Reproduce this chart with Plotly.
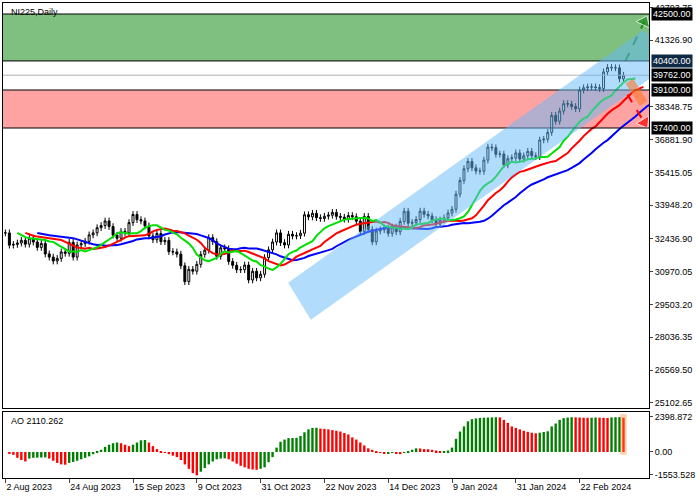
import plotly.graph_objects as go
import pandas as pd
import numpy as np

closes = [32707,32159,32192,32254,32377,32204,32473,32300,32059,32238,31766,31626,31450,31565,31856,31796,
32287,31624,32169,32227,32333,32619,32710,32939,33036,33241,32991,32606,32467,32776,32706,33168,
33533,33300,33242,33023,32571,32402,32678,32315,32371,31872,31857,31759,31237,30526,31075,30994,
31300,31746,31936,32494,32315,31659,32040,31998,31430,31259,31062,31062,31269,30601,30991,30697,
30858,31601,31950,32300,32708,32272,32166,32646,32568,32585,32695,33519,33424,33585,33388,33354,
33452,33500,33625,33447,33408,33321,33486,33431,33231,32775,33445,32858,32307,32791,32843,32926,
32686,32970,32758,33219,33675,33140,33169,33305,33681,33540,33464,33300,33100,33288,33377,33600,
33763,34441,35049,35577,35901,35619,35477,35466,35963,36546,36517,36226,36236,35751,36026,36065,
36286,36011,36158,36354,36160,36119,36863,36897,37200,37963,37703,38157,38487,38470,38363,38262,
39098,39200,39233,39239,39208,39166,39910,40109,40097,40090,39598,39762]

ao = [0,-100,-200,-400,-550,-650,-450,-400,-390,-380,-370,-450,-600,-750,-850,-870,
-750,-680,-600,-500,-400,-300,-150,50,150,350,500,600,650,600,500,400,
500,650,800,820,650,400,200,50,-50,-150,-250,-350,-550,-850,-1150,-1450,-1600,
-1350,-1100,-850,-650,-500,-450,-440,-500,-650,-800,-950,-1050,-1150,-1200,-1220,
-1150,-1050,-700,-350,300,700,850,950,960,970,1100,1350,1550,1650,1660,
1600,1580,1550,1500,1450,1400,1300,1200,1000,850,650,450,250,150,50,-50,-100,
-90,-50,-100,-150,-50,50,150,250,240,200,190,150,100,50,60,100,300,900,1400,1750,2100,
2250,2300,2330,2350,2360,2370,2380,2370,2200,2000,1750,1650,1550,1450,1380,1320,1280,
1320,1370,1420,1750,1950,2200,2320,2360,2380,2370,2360,2350,2340,2350,2360,2350,2340,2330,
2370,2380,2390,2350]

tick_idx = [0,16,32,48,64,80,96,112,128,144]
tick_text = ["2 Aug 2023","24 Aug 2023","15 Sep 2023","9 Oct 2023","31 Oct 2023",
             "22 Nov 2023","14 Dec 2023","9 Jan 2024","31 Jan 2024","22 Feb 2024"]
price_ticks = [25102.65,26569.50,28036.35,29503.20,30970.05,32436.90,33948.20,35415.05,
               36881.90,38348.75,41326.90,42793.75]
ao_ticks = [2398.872,0.0,-1553.528]
levels = {"green_zone":(40400,42500),"red_zone":(37400,39100)}
last_price = 39762

n = len(closes)
idx = list(range(n))
opens = [closes[0]] + closes[:-1]
highs = [max(o,c)+150 for o,c in zip(opens,closes)]
lows = [min(o,c)-150 for o,c in zip(opens,closes)]

s = pd.Series(closes, dtype=float)
def smma(k): return s.ewm(alpha=1/k, adjust=False).mean().values
jaw, teeth, lips = smma(13), smma(8), smma(5)

fig = go.Figure()
for (lo,hi),col in [(levels["green_zone"],"rgba(0,128,0,0.5)"),(levels["red_zone"],"rgba(255,70,70,0.5)")]:
    fig.add_shape(type="rect", xref="x domain", yref="y", x0=0, x1=1, y0=lo, y1=hi,
                  fillcolor=col, line_width=0, layer="below")
    for v in (lo,hi):
        fig.add_shape(type="line", xref="x domain", yref="y", x0=0, x1=1, y0=v, y1=v,
                      line=dict(color="black", width=1))
fig.add_shape(type="line", xref="x domain", yref="y", x0=0, x1=1, y0=last_price, y1=last_price,
              line=dict(color="#b0b0b0", width=1))
fig.add_shape(type="path", xref="x", yref="y",
              path="M 70.9,30476 L 160,41785 L 161.4,41550 L 161.4,39585 L 76.6,28822 Z",
              fillcolor="rgba(100,185,250,0.5)", line_width=0, layer="above")

fig.add_trace(go.Candlestick(x=idx, open=opens, high=highs, low=lows, close=closes,
    increasing=dict(line=dict(color="black", width=1), fillcolor="white"),
    decreasing=dict(line=dict(color="black", width=1), fillcolor="black"),
    whiskerwidth=0, showlegend=False, hoverinfo="skip"))
fig.add_trace(go.Scatter(x=[i+8 for i in idx], y=jaw, mode="lines", line=dict(color="#0000ff", width=2), showlegend=False))
fig.add_trace(go.Scatter(x=[i+5 for i in idx], y=teeth, mode="lines", line=dict(color="#ff0000", width=2), showlegend=False))
fig.add_trace(go.Scatter(x=[i+3 for i in idx], y=lips, mode="lines", line=dict(color="#00e000", width=2), showlegend=False))

fig.add_shape(type="line", xref="x", yref="y", x0=156.5, y0=39500, x1=160, y1=38500,
              line=dict(color="rgba(255,120,40,0.6)", width=9))
for (x0,y0,x1,y1,c) in [(155.5,40400,160.2,42150,"#1a8a1a"),(156,38900,160.2,37650,"#ff0000")]:
    fig.add_trace(go.Scatter(x=[x0,x1], y=[y0,y1], mode="lines+markers", cliponaxis=False,
                             line=dict(color=c, width=2, dash="dash"),
                             marker=dict(symbol=["circle","triangle-up"], size=[1,13], color=c, angleref="previous"),
                             showlegend=False, hoverinfo="skip"))

ao_col = ["#008000" if i==0 or ao[i]>ao[i-1] else "#ff0000" for i in range(n)]
fig.add_trace(go.Bar(x=idx, y=ao, marker_color=ao_col, marker_line_width=0, width=0.6,
                     yaxis="y2", xaxis="x2", showlegend=False))
fig.add_shape(type="rect", xref="x2", yref="y2", x0=154.2, x1=155.8, y0=-200, y1=2600,
              fillcolor="rgba(255,140,60,0.4)", line_width=0)

font = dict(family="Liberation Sans", size=9, color="black")
ax_common = dict(showline=True, linecolor="black", mirror=True, showgrid=False, zeroline=False, automargin=False)
fig.update_layout(
    width=700, height=500, margin=dict(l=3, r=51, t=3, b=22),
    plot_bgcolor="white", paper_bgcolor="white", font=font, bargap=0.3,
    xaxis=dict(range=[-0.6,161.4], domain=[0,1], anchor="y", showticklabels=False, ticks="",
               rangeslider=dict(visible=False), **ax_common),
    xaxis2=dict(range=[-0.6,161.4], domain=[0,1], anchor="y2", matches="x", tickvals=tick_idx, ticktext=tick_text,
                ticks="outside", ticklen=4, tickangle=0, ticklabelposition="outside right", **ax_common),
    yaxis=dict(range=[24888,42992], domain=[0.148,1], side="right", tickvals=price_ticks,
               ticktext=[f"{v:.2f}" for v in price_ticks], ticks="outside", ticklen=3, **ax_common),
    yaxis2=dict(range=[-1781,2740], domain=[0,0.139], side="right", tickvals=ao_ticks,
                ticktext=["2398.872","0.00","-1553.528"], ticks="outside", ticklen=3, **ax_common),
)
for v,bg in [(42500,"black"),(40400,"#0f2a44"),(39762,"black"),(39100,"black"),(37400,"black")]:
    fig.add_annotation(xref="paper", yref="y", x=1.003, y=v, xanchor="left", text=f"{v:.2f}",
                       showarrow=False, bgcolor=bg, font=dict(family="Liberation Sans", size=9, color="white"),
                       borderpad=1)
fig.add_annotation(xref="paper", yref="paper", x=0.01, y=0.995, xanchor="left", yanchor="top",
                   text="NI225,Daily", showarrow=False, font=font)
fig.add_annotation(xref="paper", yref="paper", x=0.01, y=0.135, xanchor="left", yanchor="top",
                   text="AO 2110.262", showarrow=False, font=font)
fig.write_html("out.html", config={"displayModeBar": False},
               post_script="document.body.style.margin='0';document.body.style.overflow='hidden';")
